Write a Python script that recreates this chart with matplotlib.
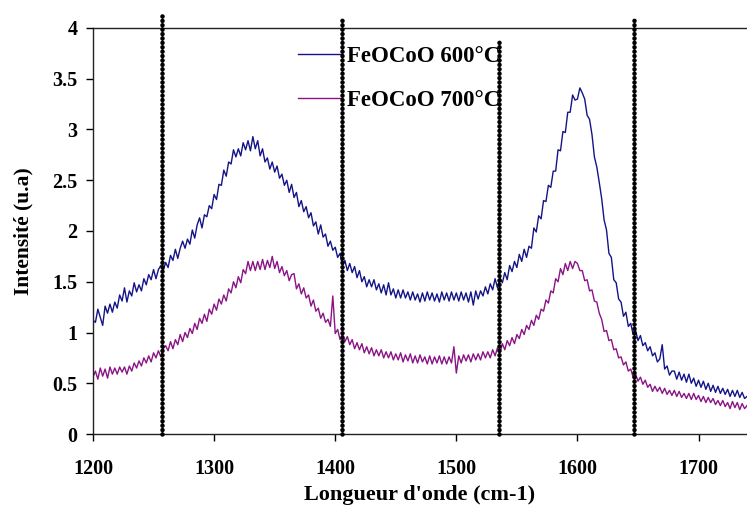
import numpy as np
import matplotlib
matplotlib.use("Agg")
import matplotlib.pyplot as plt

# Raman shift grid (cm-1), 2 cm-1 step starting at 1200
x_start, x_step = 1200, 2

feocoo_600 = [
    1.12, 1.10, 1.23, 1.15, 1.07, 1.26, 1.19, 1.28, 1.20, 1.30,
    1.24, 1.37, 1.31, 1.44, 1.30, 1.41, 1.36, 1.49, 1.40, 1.47,
    1.41, 1.53, 1.47, 1.57, 1.52, 1.62, 1.53, 1.62, 1.66, 1.61,
    1.69, 1.64, 1.76, 1.71, 1.82, 1.73, 1.83, 1.90, 1.83, 1.92,
    1.87, 2.01, 1.93, 2.06, 2.13, 2.03, 2.16, 2.14, 2.25, 2.22,
    2.36, 2.31, 2.46, 2.45, 2.60, 2.54, 2.68, 2.66, 2.80, 2.73,
    2.81, 2.74, 2.87, 2.80, 2.89, 2.79, 2.93, 2.81, 2.89, 2.74,
    2.81, 2.68, 2.72, 2.61, 2.68, 2.58, 2.64, 2.52, 2.56, 2.45,
    2.50, 2.38, 2.46, 2.33, 2.38, 2.24, 2.30, 2.19, 2.24, 2.13,
    2.18, 2.05, 2.09, 1.97, 2.06, 1.94, 1.97, 1.85, 1.90, 1.81,
    1.84, 1.74, 1.78, 1.66, 1.71, 1.61, 1.68, 1.59, 1.65, 1.54,
    1.61, 1.50, 1.55, 1.45, 1.52, 1.45, 1.52, 1.42, 1.48, 1.39,
    1.47, 1.37, 1.49, 1.37, 1.43, 1.34, 1.42, 1.34, 1.42, 1.34,
    1.40, 1.32, 1.40, 1.32, 1.38, 1.30, 1.39, 1.31, 1.40, 1.32,
    1.39, 1.31, 1.38, 1.30, 1.40, 1.32, 1.39, 1.31, 1.40, 1.32,
    1.39, 1.31, 1.40, 1.32, 1.39, 1.30, 1.40, 1.27, 1.41, 1.33,
    1.41, 1.36, 1.45, 1.38, 1.48, 1.42, 1.53, 1.44, 1.54, 1.49,
    1.59, 1.52, 1.66, 1.60, 1.70, 1.64, 1.77, 1.70, 1.82, 1.74,
    1.85, 1.83, 2.03, 1.99, 2.15, 2.12, 2.30, 2.29, 2.45, 2.43,
    2.59, 2.59, 2.80, 2.79, 2.98, 2.97, 3.17, 3.17, 3.34, 3.29,
    3.30, 3.41, 3.36, 3.30, 3.14, 3.10, 2.95, 2.73, 2.63, 2.48,
    2.32, 2.11, 2.01, 1.78, 1.74, 1.52, 1.49, 1.33, 1.30, 1.16,
    1.20, 1.06, 1.09, 0.98, 1.02, 0.92, 0.97, 0.87, 0.90, 0.82,
    0.86, 0.77, 0.80, 0.71, 0.74, 0.88, 0.64, 0.67, 0.58, 0.62,
    0.62, 0.54, 0.61, 0.53, 0.59, 0.51, 0.59, 0.50, 0.55, 0.47,
    0.53, 0.46, 0.52, 0.44, 0.50, 0.42, 0.48, 0.41, 0.47, 0.40,
    0.45, 0.39, 0.44, 0.37, 0.43, 0.37, 0.43, 0.36, 0.41, 0.35,
    0.37,
]

feocoo_700 = [
    0.56, 0.62, 0.54, 0.65, 0.57, 0.64, 0.55, 0.66, 0.59, 0.65,
    0.59, 0.66, 0.61, 0.66, 0.59, 0.67, 0.62, 0.70, 0.65, 0.72,
    0.67, 0.75, 0.70, 0.77, 0.71, 0.80, 0.75, 0.82, 0.76, 0.84,
    0.87, 0.82, 0.91, 0.84, 0.93, 0.88, 0.98, 0.91, 1.00, 0.95,
    1.04, 0.99, 1.09, 1.03, 1.14, 1.09, 1.18, 1.11, 1.23, 1.18,
    1.28, 1.22, 1.33, 1.28, 1.37, 1.31, 1.43, 1.39, 1.50, 1.44,
    1.55, 1.49, 1.62, 1.58, 1.70, 1.61, 1.70, 1.61, 1.70, 1.62,
    1.72, 1.62, 1.71, 1.64, 1.75, 1.63, 1.70, 1.59, 1.65, 1.56,
    1.61, 1.51, 1.57, 1.58, 1.43, 1.48, 1.38, 1.44, 1.34, 1.37,
    1.26, 1.32, 1.21, 1.24, 1.14, 1.19, 1.10, 1.13, 1.06, 1.36,
    0.99, 1.03, 0.93, 0.98, 0.91, 0.96, 0.88, 0.93, 0.84, 0.90,
    0.83, 0.89, 0.80, 0.86, 0.79, 0.85, 0.77, 0.83, 0.77, 0.83,
    0.75, 0.81, 0.75, 0.81, 0.73, 0.79, 0.73, 0.80, 0.71, 0.78,
    0.72, 0.79, 0.70, 0.77, 0.70, 0.78, 0.71, 0.76, 0.69, 0.77,
    0.69, 0.76, 0.70, 0.77, 0.69, 0.76, 0.69, 0.76, 0.70, 0.86,
    0.60, 0.77, 0.70, 0.78, 0.72, 0.78, 0.71, 0.79, 0.73, 0.79,
    0.73, 0.81, 0.75, 0.81, 0.75, 0.83, 0.77, 0.85, 0.80, 0.89,
    0.83, 0.92, 0.87, 0.95, 0.89, 0.98, 0.94, 1.03, 0.98, 1.07,
    1.03, 1.12, 1.07, 1.17, 1.13, 1.23, 1.21, 1.32, 1.29, 1.41,
    1.39, 1.53, 1.50, 1.63, 1.57, 1.68, 1.61, 1.70, 1.63, 1.70,
    1.68, 1.61, 1.61, 1.51, 1.52, 1.41, 1.42, 1.31, 1.30, 1.19,
    1.13, 1.01, 1.02, 0.92, 0.93, 0.83, 0.84, 0.75, 0.76, 0.68,
    0.71, 0.62, 0.64, 0.56, 0.59, 0.52, 0.56, 0.49, 0.53, 0.46,
    0.49, 0.42, 0.47, 0.42, 0.46, 0.40, 0.45, 0.39, 0.43, 0.38,
    0.43, 0.37, 0.42, 0.36, 0.40, 0.35, 0.40, 0.34, 0.40, 0.34,
    0.38, 0.32, 0.37, 0.31, 0.36, 0.31, 0.35, 0.29, 0.33, 0.28,
    0.33, 0.27, 0.31, 0.25, 0.32, 0.26, 0.31, 0.24, 0.30, 0.25,
    0.28,
]

labels = ["FeOCoO 600°C", "FeOCoO 700°C"]
colors = ["#141487", "#8a1486"]

# vertical dotted markers (cm-1) and their top ends (u.a)
marker_x = [1257, 1406, 1535, 1647]
marker_top = [4.15, 4.08, 3.87, 4.08]

x_ticks = [1200, 1300, 1400, 1500, 1600, 1700]
y_ticks = [0, 0.5, 1, 1.5, 2, 2.5, 3, 3.5, 4]
y_ticklabels = ["0", "0.5", "1", "1.5", "2", "2.5", "3", "3.5", "4"]

x600 = x_start + x_step * np.arange(len(feocoo_600))
x700 = x_start + x_step * np.arange(len(feocoo_700))

plt.rcParams['font.family'] = ['Liberation Serif', 'DejaVu Serif']
fig = plt.figure(figsize=(7.47, 5.05), dpi=100)
ax = fig.add_axes([93/747, 1-434/505, 1-93/747, (434-28)/505])

ax.plot(x600, feocoo_600, color=colors[0], lw=1.0, label=labels[0])
ax.plot(x700, feocoo_700, color=colors[1], lw=1.0, label=labels[1])

for mx, mt in zip(marker_x, marker_top):
    ax.plot([mx, mx], [0, mt], color='black', lw=3.3, linestyle=(0, (0.01, 0.95)),
            dash_capstyle='round', clip_on=False, zorder=10)

ax.set_xlim(1200, 1740)
ax.set_ylim(0, 4)
ax.set_xticks(x_ticks)
ax.set_xticklabels([str(t) for t in x_ticks])
ax.set_yticks(y_ticks)
ax.set_yticklabels(y_ticklabels)
ax.tick_params(direction='out', length=5, width=1, labelsize=14.5, pad=6)
for lab in ax.get_xticklabels() + ax.get_yticklabels():
    lab.set_fontweight('bold')
ax.tick_params(axis='x', pad=13)

ax.spines['right'].set_visible(False)
for s in ['left', 'bottom', 'top']:
    ax.spines[s].set_linewidth(1.0)
    ax.spines[s].set_color('#222222')

ax.set_xlabel("Longueur d'onde (cm-1)", fontsize=16, fontweight='bold', labelpad=4)
ax.set_ylabel("Intensité (u.a)", fontsize=15.5, fontweight='bold', labelpad=14)

leg = ax.legend(loc='upper left', bbox_to_anchor=((298-93)/654, 1-(46-28)/406),
                frameon=False, fontsize=16.5, handlelength=1.88, handletextpad=0.26,
                labelspacing=1.0, borderaxespad=0, borderpad=0)
for t in leg.get_texts():
    t.set_fontweight('bold')

fig.savefig("out.png", dpi=100)
